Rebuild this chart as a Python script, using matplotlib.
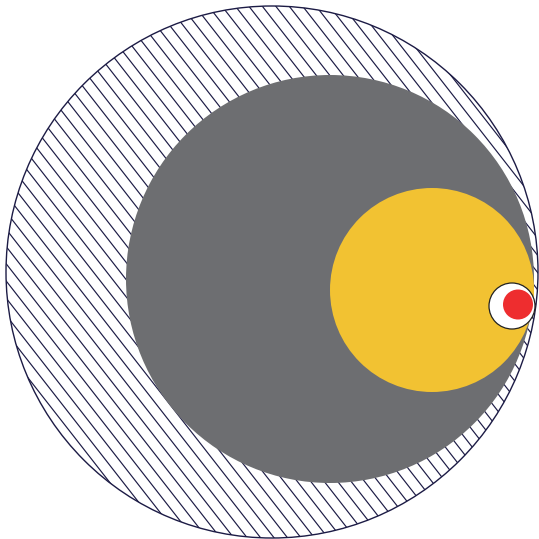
import numpy as np
import matplotlib
matplotlib.use("Agg")
import matplotlib.pyplot as plt
from matplotlib.patches import Circle

# Data: nested circles (center x, center y, radius) in chart units
names = ["outer", "gray", "yellow", "white", "red"]
cx = [272, 330, 432, 512, 518]
cy = [272, 279, 290, 306, 304.5]
radius = [266, 204, 102, 23, 15]

fill_colors = ["none", "#6d6e71", "#f2c232", "#ffffff", "#ee2d2f"]
edge_colors = ["#1c1b45", "none", "none", "#222222", "none"]
edge_widths = [1.0, 0, 0, 0.9, 0]

W = 539
fig = plt.figure(figsize=(W / 100, W / 100), dpi=100)
ax = fig.add_axes([0, 0, 1, 1])
ax.set_xlim(0, W)
ax.set_ylim(W, 0)
ax.set_aspect("equal")
ax.axis("off")

# Outer hatched circle
outer = Circle((cx[0], cy[0]), radius[0], facecolor="white",
               edgecolor=edge_colors[0], lw=edge_widths[0], zorder=1)
ax.add_patch(outer)

# hatch lines (decoration), slightly steeper than 45 degrees
angle = np.deg2rad(52)
d = np.array([np.cos(angle), np.sin(angle)])  # direction (down-right in inverted y)
nrm = np.array([-d[1], d[0]])
spacing = 10.6
L = 800
for k in np.arange(-60, 61):
    p0 = np.array([cx[0], cy[0]]) + nrm * k * spacing + nrm * 3
    a = p0 - d * L
    b = p0 + d * L
    ln, = ax.plot([a[0], b[0]], [a[1], b[1]], color="#1c1b45", lw=0.85, zorder=1.5)
    ln.set_clip_path(outer)

for i in range(1, len(names)):
    c = Circle((cx[i], cy[i]), radius[i], facecolor=fill_colors[i],
               edgecolor=edge_colors[i], lw=edge_widths[i], zorder=2 + i)
    ax.add_patch(c)

fig.savefig("out.png", dpi=100)
